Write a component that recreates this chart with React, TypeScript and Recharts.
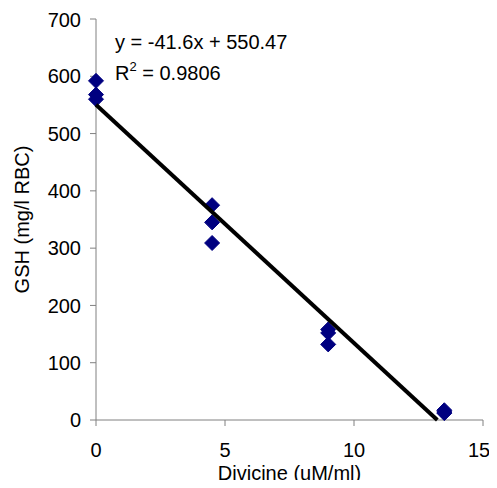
import React from "react";
import { ScatterChart, Scatter, XAxis, YAxis } from "recharts";

const divicine = [0, 0, 0, 4.5, 4.5, 4.5, 9, 9, 9, 13.5, 13.5, 13.5];
const gsh = [592, 568, 560, 375, 345, 309, 158, 152, 132, 17, 12, 14];
const trendX = [0, 13.23];
const trendY = [550.47, 0];
const xTicks = [0, 5, 10, 15];
const yTicks = [0, 100, 200, 300, 400, 500, 600, 700];

const points = divicine.map((x, i) => ({ x, y: gsh[i] }));
const trend = trendX.map((x, i) => ({ x, y: trendY[i] }));

const FONT = "Arial, 'Liberation Sans', sans-serif";
const FS = 20;

const Diamond = (props: any) => {
  const { cx, cy } = props;
  if (cx == null || cy == null) return null;
  const r = 7.5;
  return (
    <path
      d={`M${cx},${cy - r} L${cx + r},${cy} L${cx},${cy + r} L${cx - r},${cy} Z`}
      fill="#000080"
      stroke="#000080"
      strokeWidth={1}
      strokeLinejoin="round"
    />
  );
};

const NoShape = () => <g />;

const XLabel = (props: any) => {
  const { viewBox } = props;
  const cx = viewBox.x + viewBox.width / 2;
  return (
    <text x={cx} y={viewBox.y + 60} textAnchor="middle" fill="#000" fontSize={FS} fontFamily={FONT}>
      Divicine (uM/ml)
    </text>
  );
};

export default function App() {
  return (
    <div style={{ position: "relative", width: 481, height: 472, fontFamily: FONT }}>
      <style>{`.recharts-wrapper, svg.recharts-surface { overflow: visible !important; }`}</style>
      <ScatterChart
        width={481}
        height={480}
        margin={{ top: 11, right: 6, bottom: 8, left: 0 }}
      >
        <XAxis
          type="number"
          dataKey="x"
          domain={[0, 15]}
          ticks={xTicks}
          height={60}
          stroke="#808080"
          tickSize={6}
          tickMargin={17}
          tick={{ fill: "#000", fontSize: FS, fontFamily: FONT }}
          label={<XLabel />}
        />
        <YAxis
          type="number"
          dataKey="y"
          domain={[0, 700]}
          ticks={yTicks}
          width={88}
          stroke="#808080"
          tickSize={6}
          tickMargin={9}
          tick={{ fill: "#000", fontSize: FS, fontFamily: FONT }}
          label={{
            value: "GSH (mg/l RBC)",
            angle: -90,
            position: "insideLeft",
            offset: 14,
            style: { fill: "#000", fontSize: FS, fontFamily: FONT, textAnchor: "middle" },
          }}
        />
        <Scatter data={points} shape={<Diamond />} isAnimationActive={false} />
        <Scatter
          data={trend}
          shape={<NoShape />}
          line={{ stroke: "#000", strokeWidth: 4 }}
          lineType="joint"
          isAnimationActive={false}
        />
      </ScatterChart>
      <div
        style={{
          position: "absolute",
          left: 107,
          top: 19,
          fontSize: FS,
          lineHeight: "31px",
          color: "#000",
          whiteSpace: "nowrap",
        }}
      >
        <div>y = -41.6x + 550.47</div>
        <div>
          R<sup style={{ fontSize: 13, verticalAlign: "top", lineHeight: "18px" }}>2</sup> = 0.9806
        </div>
      </div>
    </div>
  );
}
